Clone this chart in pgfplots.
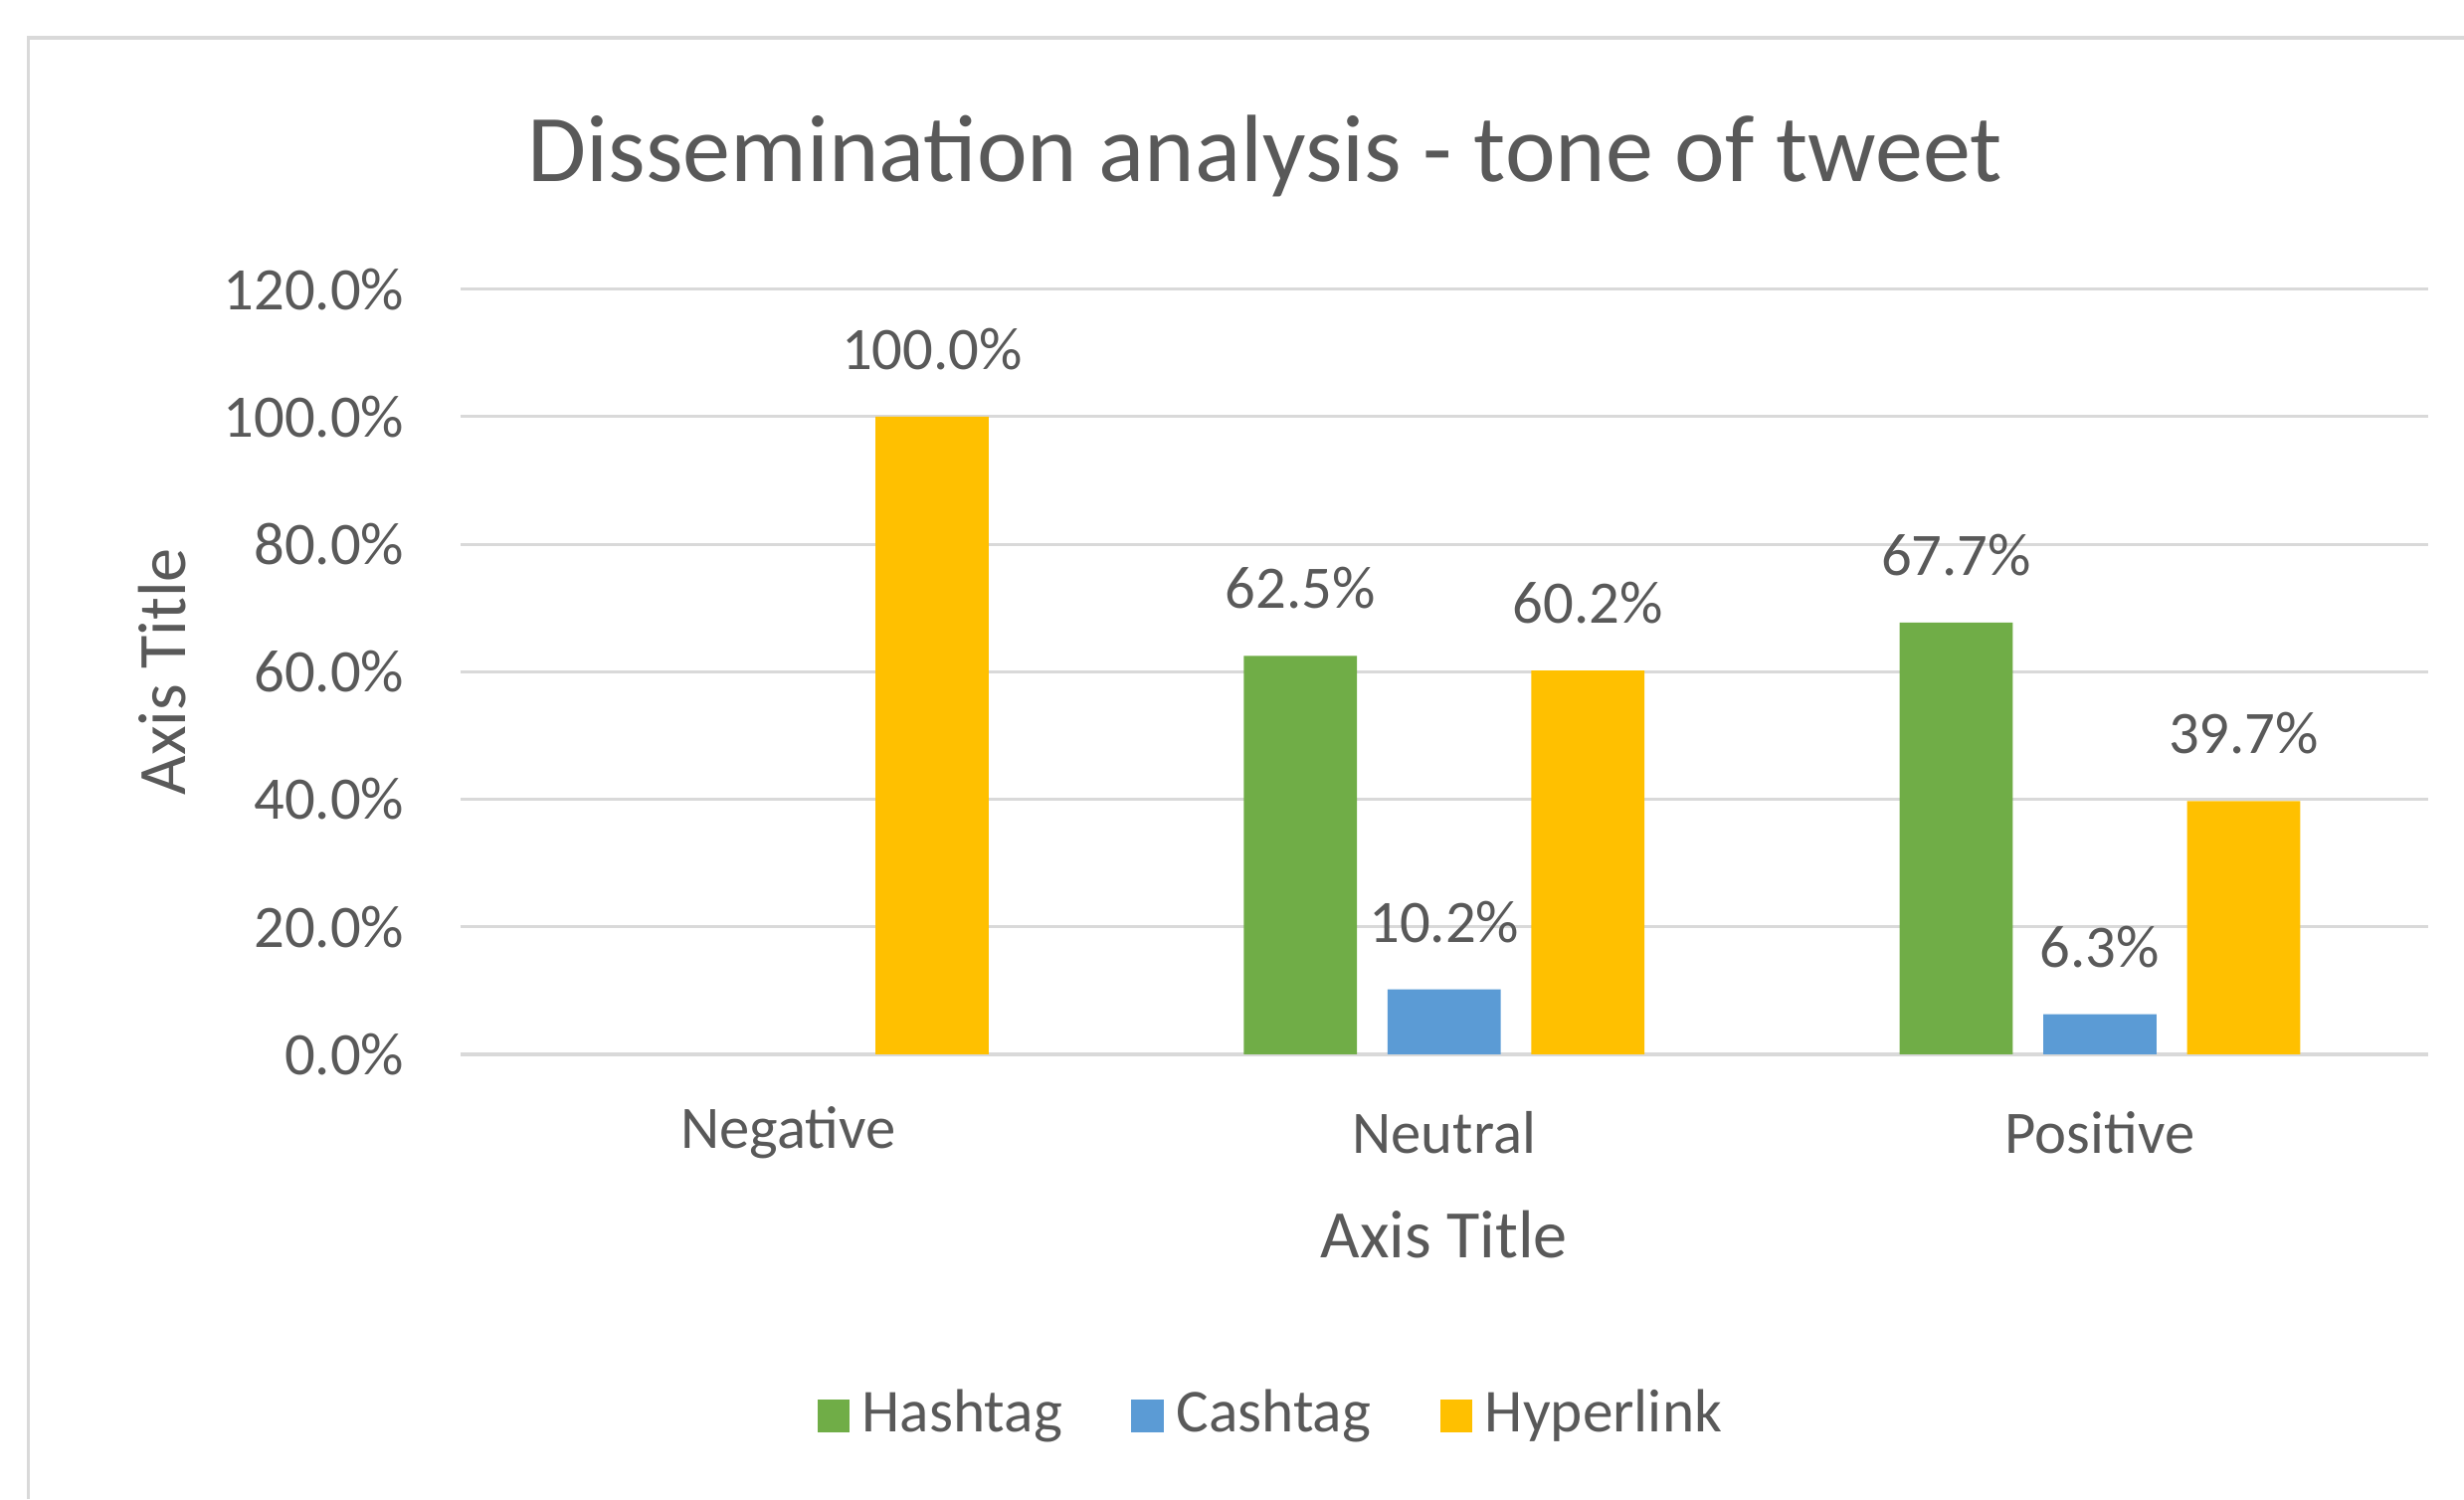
\documentclass[border=0pt]{standalone}
\usepackage{fontspec}
\setmainfont{Carlito}
\usepackage{pgfplots}
\pgfplotsset{compat=1.18}

\definecolor{hashtag}{HTML}{70AD47}
\definecolor{cashtag}{HTML}{5B9BD5}
\definecolor{hyperlink}{HTML}{FFC000}
\definecolor{txt}{HTML}{595959}
\definecolor{gridc}{HTML}{D9D9D9}

\begin{document}
\begin{tikzpicture}
\useasboundingbox (0,0) rectangle (392pt,238.5pt);
% chart area frame (left and top edges)
\draw[gridc, line width=0.6pt] (4.5pt,0pt) -- (4.5pt,232.5pt) -- (392pt,232.5pt);
\begin{axis}[
  at={(73.25pt,70.75pt)}, anchor=south west,
  scale only axis, width=313pt, height=121.75pt,
  xmin=-0.5, xmax=2.5, ymin=0, ymax=120,
  xtick={0,1,2}, xticklabels={Negative,Neutral,Positive},
  ytick={0,20,...,120},
  yticklabel={\pgfmathprintnumber[fixed,fixed zerofill,precision=1]{\tick}\%},
  /pgf/number format/assume math mode=true,
  major tick length=0pt,
  axis line style={draw=none},
  ymajorgrids, grid style={gridc, line width=0.5pt},
  tick label style={font=\fontsize{9.6pt}{11pt}\selectfont, text=txt},
  yticklabel style={anchor=east, inner sep=0pt, xshift=-8.75pt},
  xticklabel style={anchor=center, inner sep=0pt, yshift=-12.5pt},
  title={Dissemination analysis - tone of tweet},
  title style={at={(axis description cs:0.409,1.1786)}, anchor=center, yshift=-6.5pt,
    font=\fontsize{15.2pt}{18pt}\selectfont, text=txt},
  xlabel={Axis Title}, ylabel={Axis Title},
  label style={font=\fontsize{10.8pt}{13pt}\selectfont, text=txt},
  xlabel style={at={(axis description cs:0.5,-0.236)}, anchor=center},
  ylabel style={at={(axis description cs:-0.1518,0.5)}, anchor=center, rotate=0},
  ybar, bar width=18pt,
  nodes near coords={\pgfmathprintnumber[fixed,fixed zerofill,precision=1]{\pgfplotspointmeta}\%},
  nodes near coords style={font=\fontsize{9.6pt}{11pt}\selectfont, text=txt,
    anchor=south, inner sep=0pt, yshift=7.25pt},
  legend columns=3,
  legend style={at={(axis description cs:0.4145,-0.472)}, anchor=center,
    draw=none, fill=none, font=\fontsize{9.7pt}{11pt}\selectfont, text=txt,
    /tikz/every even column/.append style={column sep=9pt}},
  legend image code/.code={\fill[#1] (-0.75pt,-2.6pt) rectangle (4.4pt,2.6pt);},
]
\addplot[fill=hashtag, draw=none, bar shift=-22.875pt]
  coordinates {(1,62.5) (2,67.7)};
\addplot[fill=cashtag, draw=none, bar shift=0pt]
  coordinates {(1,10.2) (2,6.3)};
\addplot[fill=hyperlink, draw=none, bar shift=22.875pt]
  coordinates {(0,100.0) (1,60.2) (2,39.7)};
\legend{Hashtag,Cashtag,Hyperlink}
\end{axis}
\end{tikzpicture}
\end{document}
